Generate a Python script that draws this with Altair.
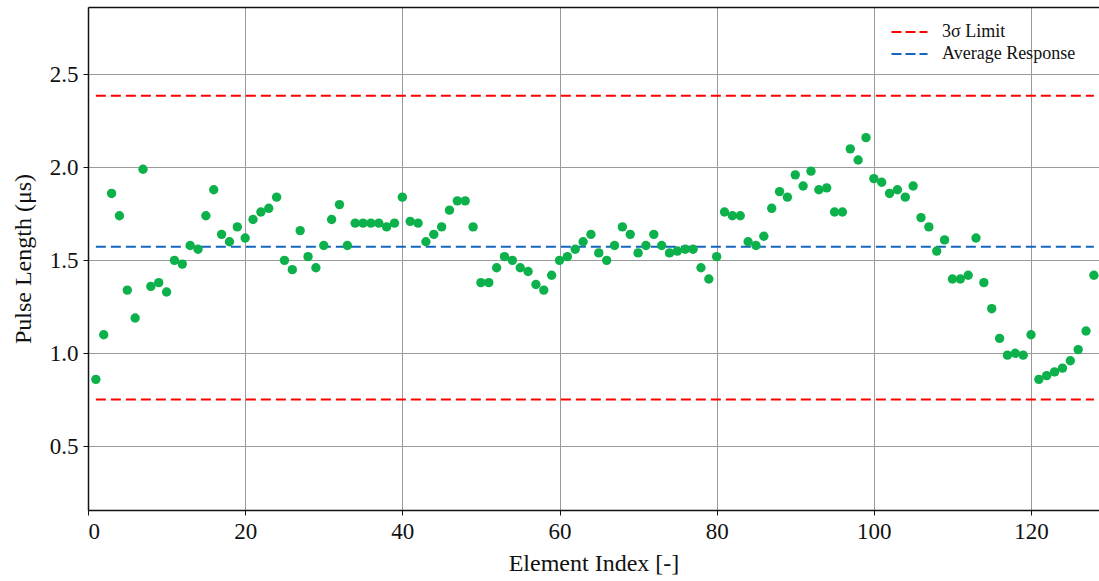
import altair as alt
import pandas as pd

element_index = list(range(1, 129))
pulse_length = [
    0.86, 1.10, 1.86, 1.74, 1.34, 1.19, 1.99, 1.36, 1.38, 1.33,
    1.50, 1.48, 1.58, 1.56, 1.74, 1.88, 1.64, 1.60, 1.68, 1.62,
    1.72, 1.76, 1.78, 1.84, 1.50, 1.45, 1.66, 1.52, 1.46, 1.58,
    1.72, 1.80, 1.58, 1.70, 1.70, 1.70, 1.70, 1.68, 1.70, 1.84,
    1.71, 1.70, 1.60, 1.64, 1.68, 1.77, 1.82, 1.82, 1.68, 1.38,
    1.38, 1.46, 1.52, 1.50, 1.46, 1.44, 1.37, 1.34, 1.42, 1.50,
    1.52, 1.56, 1.60, 1.64, 1.54, 1.50, 1.58, 1.68, 1.64, 1.54,
    1.58, 1.64, 1.58, 1.54, 1.55, 1.56, 1.56, 1.46, 1.40, 1.52,
    1.76, 1.74, 1.74, 1.60, 1.58, 1.63, 1.78, 1.87, 1.84, 1.96,
    1.90, 1.98, 1.88, 1.89, 1.76, 1.76, 2.10, 2.04, 2.16, 1.94,
    1.92, 1.86, 1.88, 1.84, 1.90, 1.73, 1.68, 1.55, 1.61, 1.40,
    1.40, 1.42, 1.62, 1.38, 1.24, 1.08, 0.99, 1.00, 0.99, 1.10,
    0.86, 0.88, 0.90, 0.92, 0.96, 1.02, 1.12, 1.42,
]

line_names = ["3σ Limit", "3σ Limit", "Average Response"]
line_groups = ["upper", "lower", "avg"]
line_values = [2.385, 0.752, 1.573]
line_start = [1, 1, 1]
line_end = [128, 128, 128]
line_colors = ["#ff0000", "#1565c0"]

pts = pd.DataFrame({"idx": element_index, "val": pulse_length})
lines = pd.DataFrame({"name": line_names, "grp": line_groups, "y": line_values,
                      "x1": line_start, "x2": line_end})

FONT = "Liberation Serif"
xscale = alt.Scale(domain=[0, 128.65], nice=False, zero=False)
yscale = alt.Scale(domain=[0.157, 2.863], nice=False, zero=False)

points = alt.Chart(pts).mark_circle(size=88, opacity=1, color="#0db14b").encode(
    x=alt.X("idx:Q", scale=xscale,
            axis=alt.Axis(title="Element Index [-]", values=[0, 20, 40, 60, 80, 100, 120],
                          format="d", grid=True, orient="bottom")),
    y=alt.Y("val:Q", scale=yscale,
            axis=alt.Axis(title="Pulse Length (μs)", values=[0.5, 1.0, 1.5, 2.0, 2.5],
                          format=".1f", grid=True)),
)

rules = alt.Chart(lines).mark_rule(strokeWidth=2, strokeDash=[10, 5]).encode(
    x=alt.X("x1:Q", scale=xscale,
            axis=alt.Axis(orient="top", labels=False, ticks=False, grid=False, title=None,
                          domain=True)),
    x2="x2:Q",
    y=alt.Y("y:Q", scale=yscale),
    detail="grp:N",
    color=alt.Color("name:N",
                    scale=alt.Scale(domain=["3σ Limit", "Average Response"], range=line_colors),
                    legend=alt.Legend(title=None, orient="none", legendX=802, legendY=14,
                                      symbolType="stroke", symbolDash=[10, 4],
                                      symbolStrokeWidth=2, symbolSize=1300,
                                      labelFont=FONT, labelFontSize=18,
                                      labelColor="#111", labelOffset=13,
                                      clipHeight=22, rowPadding=0, padding=0)),
)

chart = alt.layer(rules, points).resolve_axis(x="independent").properties(
    width=1011, height=503,
    autosize=alt.AutoSizeParams(type="none"),
    padding={"left": 88, "top": 7, "right": 0, "bottom": 71},
).configure_view(stroke=None).configure_axis(
    labelFont=FONT, titleFont=FONT, labelFontSize=23, titleFontSize=24,
    titleFontWeight="normal", labelColor="#111", titleColor="#111",
    domainColor="#111", domainWidth=1.5, tickColor="#111", tickSize=5,
    gridColor="#9a9a9a", gridWidth=1, labelPadding=5,
).configure_axisX(titlePadding=8).configure_axisY(titlePadding=14)

chart.save("out.html", embed_options={"renderer": "svg", "actions": False})
